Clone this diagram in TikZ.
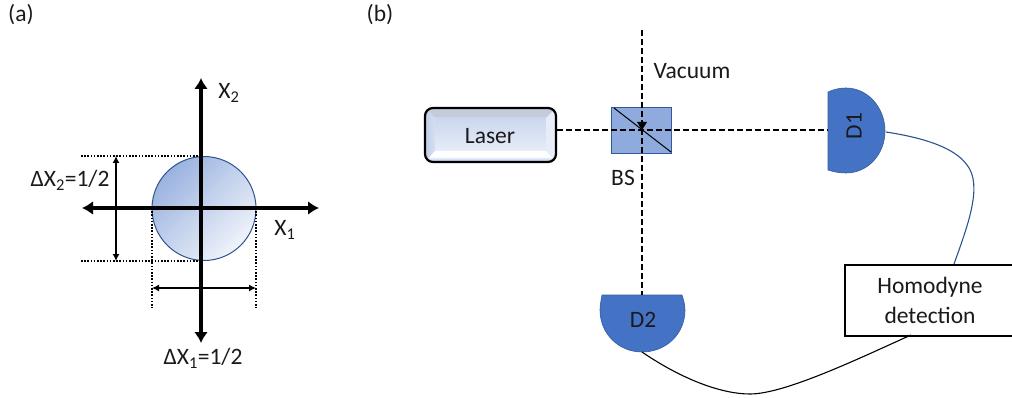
\documentclass[tikz,border=0pt]{standalone}
\usepackage{fontspec}
\setmainfont{Carlito}
\usetikzlibrary{arrows.meta,calc}
\definecolor{dblue}{HTML}{4472C4}
\definecolor{edgeblue}{HTML}{2F528F}
\definecolor{bsfill}{HTML}{8FAADC}
\definecolor{txt}{HTML}{1A1A1A}
\definecolor{lsbase}{HTML}{D5DDEE}
\definecolor{lstop}{HTML}{C4CCDC}
\definecolor{lsa}{HTML}{CCD7EE}
\definecolor{lsb}{HTML}{E6ECF8}
\definecolor{lsc}{HTML}{BFCDE8}
\definecolor{lsd}{HTML}{A9BEE8}
\tikzset{
  lab/.style={inner sep=0pt,font=\fontsize{23.5}{28}\selectfont,text=txt},
  axis/.style={line width=3.8pt,-{Latex[length=11pt,width=14pt]}},
  dim/.style={line width=1.2pt,{Latex[length=7pt,width=7pt]}-{Latex[length=7pt,width=7pt]}},
  dots/.style={line width=1.6pt,dash pattern=on 1.6pt off 1.6pt},
  beam/.style={line width=1.9pt,dash pattern=on 6pt off 3pt},
  det/.style={fill=dblue,draw=edgeblue!70!dblue,line width=0.6pt},
  pt/.style={inner sep=0pt,minimum size=0pt}
}
\begin{document}
\begin{tikzpicture}[x=1pt,y=-1pt]
\useasboundingbox (0,0) rectangle (1012,398);
% (a)
\node[lab] (la) at (21,15) {(a)};
\node[lab] (lb) at (380,15) {(b)};
\shade[top color=bsfill!90!white,bottom color=dblue!8!white,shading angle=45,draw=none] (204,208.5) circle (52);
\node[circle,draw=edgeblue,line width=1pt,minimum size=104pt,inner sep=0pt] (circ) at (204,208.5) {};
\coordinate (ct) at (201,156);
\coordinate (cb) at (201,261);
\coordinate (tl) at (81,156);
\coordinate (bl) at (81,261);
\coordinate (dt) at (116,156);
\coordinate (db) at (116,261);
\coordinate (vl) at (152,208);
\coordinate (vr) at (256,208);
\coordinate (vle) at (152,308);
\coordinate (vre) at (256,308);
\coordinate (hl) at (152,288);
\coordinate (hr) at (256,288);
\coordinate (xl) at (82,208);
\coordinate (xr) at (319,208);
\coordinate (yt) at (201,78);
\coordinate (yb) at (201,343);
\coordinate (o) at (201,208);
\draw[dots] (tl)--(ct);
\draw[dots] (bl)--(cb);
\draw[dots] (vl)--(vle);
\draw[dots] (vr)--(vre);
\draw[dim] (dt)--(db);
\draw[dim] (hl)--(hr);
\draw[axis] (o)--(xr);
\draw[axis] (o)--(xl);
\draw[axis] (o)--(yt);
\draw[axis] (o)--(yb);
\node[lab] (x2) at (229,93) {X\textsubscript{2}};
\node[lab] (x1) at (285,230) {X\textsubscript{1}};
\node[lab] (d2) at (70,180) {ΔX\textsubscript{2}=1/2};
\node[lab] (d1) at (203,358) {ΔX\textsubscript{1}=1/2};
% (b)
\coordinate (vac) at (642,30);
\coordinate (mid) at (642,130);
\fill[bsfill,draw=edgeblue!80!dblue,line width=0.9pt] (611,107) rectangle (671,153);
\node[pt,minimum width=60pt,minimum height=46pt] (bs) at (641,130) {};
\draw[line width=1pt,black] (614,108)--(671,152);
% laser
\begin{scope}
\clip[rounded corners=8pt] (425,108) rectangle (556,162);
\fill[lsbase] (425,108) rectangle (556,162);
\fill[lstop] (425,108)--(556,108)--(546,118)--(435,118)--cycle;
\shade[top color=lsa,bottom color=lsb] (435,118) rectangle (546,151);
\shade[left color=lsc,right color=lsa!60!lsb] (425,108)--(435,118)--(435,151)--(425,161)--cycle;
\shade[left color=lsb,right color=lsa!40!white] (546,118)--(556,108)--(556,162)--(546,151)--cycle;
\shade[top color=white,bottom color=lsd,middle color=white] (435,151)--(546,151)--(556,162)--(425,162)--cycle;
\end{scope}
\node[rectangle,rounded corners=8pt,draw=black,line width=2.2pt,minimum width=131pt,minimum height=54pt,inner sep=0pt] (laser) at (490.5,135) {};
\node[lab] (lasertxt) at (490,136) {Laser};
% detectors
\path[det] (828,92) .. controls (834,89) and (841,88) .. (846,88)
  .. controls (868,88) and (885,108) .. (885,131)
  .. controls (885,154) and (868,173) .. (846,173)
  .. controls (840,173) and (834,172) .. (828,170)
  -- cycle;
\coordinate (D1w) at (828,130);
\coordinate (D1e) at (886,132);
\node[lab,rotate=90] (d1t) at (854,126) {D1};
\path[det] (602,295) -- (682,295)
  .. controls (684,301) and (685,306) .. (685,310)
  .. controls (685,334) and (666,352) .. (642,352)
  .. controls (619,352) and (600,334) .. (600,310)
  .. controls (600,306) and (601,300) .. (602,295) -- cycle;
\coordinate (D2n) at (642,295);
\coordinate (D2s) at (642,352);
\node[lab] (d2t) at (643,320) {D2};
\draw[beam] (laser.east |- mid)--(D1w);
\draw[beam] (vac)--(D2n);
\fill[black] (642,130)--(637,122)--(647,122)--cycle;
\node[lab] (vt) at (692,71) {Vacuum};
\node[lab] (bst) at (623,178) {BS};
\node[rectangle,draw=black,line width=2.4pt,fill=white,minimum width=180pt,minimum height=71pt,inner sep=0pt,anchor=north west] (hd) at (844,264) {};
\node[lab,align=center] (hdt) at (930,300) {Homodyne\\[2pt]detection};
\coordinate (hdn) at (954,264);
\coordinate (hds) at (911,335);
\draw[edgeblue,line width=1.1pt] (D1e) .. controls (925,138) and (955,148) .. (967,165)
  .. controls (983,185) and (968,225) .. (hdn);
\draw[black,line width=1.1pt] (D2s) .. controls (680,378) and (720,394) .. (750,394)
  .. controls (785,394) and (860,358) .. (hds);
\end{tikzpicture}
\end{document}
